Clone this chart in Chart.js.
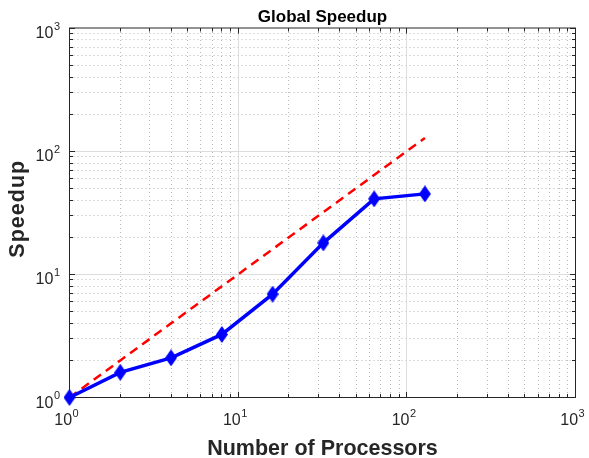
<!DOCTYPE html>
<html>
<head>
<meta charset="utf-8">
<script src="https://cdn.jsdelivr.net/npm/chart.js@4/dist/chart.umd.min.js"></script>
<style>
  html, body { margin: 0; padding: 0; background: #ffffff; }
  #wrap { width: 589px; height: 458px; }
</style>
</head>
<body>
<div id="wrap"><canvas id="speedupChart" width="589" height="458"></canvas></div>
<script>
// Measured runs: processor counts and observed global speedup
const processors = [1, 2, 4, 8, 16, 32, 64, 128];
const speedup = [1, 1.6, 2.1, 3.25, 6.9, 18, 41, 45];
// Linear (ideal) speedup reference
const idealSpeedup = [1, 2, 4, 8, 16, 32, 64, 128];
// Decade ticks shared by both log axes, with their exponents
const decadeTicks = [1, 10, 100, 1000];
const decadeExponents = ['0', '1', '2', '3'];

const FONT = "'Liberation Sans', Arial, Helvetica, sans-serif";
const TEXT = '#262626';

// Diamond marker, taller than wide
function diamondMarker(w, h, color) {
  const c = document.createElement('canvas');
  c.width = w; c.height = h;
  const g = c.getContext('2d');
  g.fillStyle = color;
  g.beginPath();
  g.moveTo(w / 2, 0);
  g.lineTo(w, h / 2);
  g.lineTo(w / 2, h);
  g.lineTo(0, h / 2);
  g.closePath();
  g.fill();
  return c;
}

// Minor and major positions across the decades of a log axis
function logValues() {
  const minor = [], major = [];
  for (let d = 0; d < decadeTicks.length; d++) {
    major.push(decadeTicks[d]);
    if (d < decadeTicks.length - 1) {
      for (let k = 2; k <= 9; k++) minor.push(k * decadeTicks[d]);
    }
  }
  return { minor, major };
}

const crisp = v => Math.floor(v) + 0.5;

// Grid, box and inward tick marks drawn beneath the data
const axesFrame = {
  id: 'axesFrame',
  beforeDatasetsDraw(chart) {
    const { ctx, chartArea: a, scales: { x, y } } = chart;
    const { minor, major } = logValues();
    ctx.save();
    ctx.lineWidth = 1;

    // dotted minor grid
    ctx.strokeStyle = '#b9b9b9';
    ctx.setLineDash([1, 3]);
    ctx.beginPath();
    minor.forEach(v => {
      const px = crisp(x.getPixelForValue(v));
      ctx.moveTo(px, a.top); ctx.lineTo(px, a.bottom);
      const py = crisp(y.getPixelForValue(v));
      ctx.moveTo(a.left, py); ctx.lineTo(a.right, py);
    });
    ctx.stroke();

    // solid major grid
    ctx.setLineDash([]);
    ctx.strokeStyle = '#dcdcdc';
    ctx.beginPath();
    major.slice(1, -1).forEach(v => {
      const px = crisp(x.getPixelForValue(v));
      ctx.moveTo(px, a.top); ctx.lineTo(px, a.bottom);
      const py = crisp(y.getPixelForValue(v));
      ctx.moveTo(a.left, py); ctx.lineTo(a.right, py);
    });
    ctx.stroke();

    // box
    ctx.strokeStyle = TEXT;
    ctx.strokeRect(a.left, a.top, a.right - a.left, a.bottom - a.top);

    // inward ticks on all four sides
    ctx.beginPath();
    const tick = (v, len) => {
      const px = crisp(x.getPixelForValue(v));
      ctx.moveTo(px, a.bottom); ctx.lineTo(px, a.bottom - len);
      ctx.moveTo(px, a.top); ctx.lineTo(px, a.top + len);
      const py = crisp(y.getPixelForValue(v));
      ctx.moveTo(a.left, py); ctx.lineTo(a.left + len, py);
      ctx.moveTo(a.right, py); ctx.lineTo(a.right - len, py);
    };
    minor.forEach(v => tick(v, 3.5));
    major.forEach(v => tick(v, 5.5));
    ctx.stroke();
    ctx.restore();
  },

  // Power-of-ten tick labels and the titles
  afterDraw(chart) {
    const { ctx, chartArea: a, scales: { x, y } } = chart;
    ctx.save();
    ctx.fillStyle = TEXT;
    ctx.textBaseline = 'alphabetic';
    ctx.textAlign = 'left';

    const baseFont = '16px ' + FONT;
    const supFont = '11px ' + FONT;
    const measure = exp => {
      ctx.font = baseFont; const wb = ctx.measureText('10').width;
      ctx.font = supFont; const we = ctx.measureText(exp).width;
      return { wb, we, total: wb + 0.5 + we };
    };
    const drawPow = (exp, left, baseline) => {
      const m = measure(exp);
      ctx.font = baseFont; ctx.fillText('10', left, baseline);
      ctx.font = supFont; ctx.fillText(exp, left + m.wb + 0.5, baseline - 8.5);
    };

    decadeTicks.forEach((v, i) => {
      const exp = decadeExponents[i];
      const m = measure(exp);
      const px = x.getPixelForValue(v);
      drawPow(exp, px - m.total / 2 - 3, a.bottom + 27.5);
      const py = y.getPixelForValue(v);
      drawPow(exp, a.left - 9.5 - m.total, py + 10);
    });

    // plot title
    ctx.fillStyle = '#000000';
    ctx.textAlign = 'center';
    ctx.font = 'bold 17px ' + FONT;
    ctx.fillText('Global Speedup', (a.left + a.right) / 2, 21.5);

    // axis titles
    ctx.fillStyle = TEXT;
    ctx.font = 'bold 21.5px ' + FONT;
    ctx.fillText('Number of Processors', (a.left + a.right) / 2, 454.5);
    if ('letterSpacing' in ctx) ctx.letterSpacing = '1px';
    ctx.translate(24, (a.top + a.bottom) / 2 - 4);
    ctx.rotate(-Math.PI / 2);
    ctx.fillText('Speedup', 0, 0);
    ctx.restore();
  }
};

const toPoints = ys => processors.map((p, i) => ({ x: p, y: ys[i] }));

new Chart(document.getElementById('speedupChart'), {
  type: 'line',
  data: {
    datasets: [
      {
        label: 'Measured',
        data: toPoints(speedup),
        borderColor: '#0000ff',
        backgroundColor: '#0000ff',
        borderWidth: 3.5,
        pointStyle: diamondMarker(12, 17, '#0000ff'),
        pointRadius: 7,
        tension: 0,
        clip: false
      },
      {
        label: 'Ideal',
        data: toPoints(idealSpeedup),
        borderColor: '#ff0000',
        borderWidth: 2.5,
        borderDash: [9, 6],
        pointRadius: 0,
        tension: 0,
        clip: false
      }
    ]
  },
  options: {
    responsive: false,
    devicePixelRatio: 1,
    animation: false,
    events: [],
    layout: { autoPadding: false, padding: { left: 0, top: 28, right: 13.5, bottom: 0 } },
    plugins: { legend: { display: false }, tooltip: { enabled: false }, title: { display: false } },
    scales: {
      x: {
        type: 'logarithmic', min: 1, max: 1000,
        ticks: { display: false }, grid: { display: false }, border: { display: false },
        afterFit(s) { s.height = 60.5; }
      },
      y: {
        type: 'logarithmic', min: 1, max: 1000,
        ticks: { display: false }, grid: { display: false }, border: { display: false },
        afterFit(s) { s.width = 69.5; }
      }
    }
  },
  plugins: [axesFrame]
});
</script>
</body>
</html>
